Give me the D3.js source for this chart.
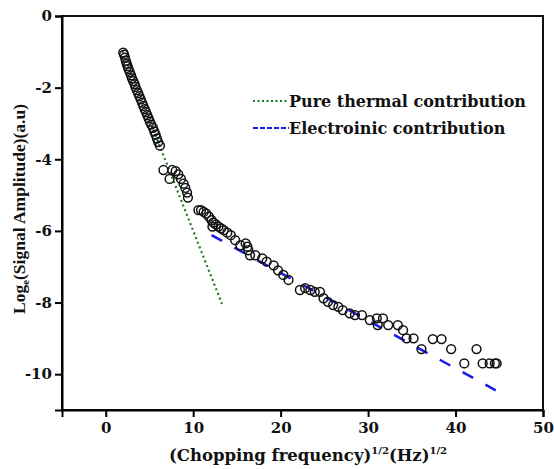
<!DOCTYPE html>
<html>
<head>
<meta charset="utf-8">
<script src="https://cdn.jsdelivr.net/npm/d3@7"></script>
<style>
  body { margin: 0; background: #fff; }
  text { font-family: "DejaVu Serif", "Liberation Serif", serif; font-weight: bold; fill: #111; }
</style>
</head>
<body>
<svg id="chart" width="554" height="469"></svg>
<script>
// measured points, x = sqrt(chopping freq), y = ln(signal amplitude)
const freq = [
  2.0, 2.1, 2.2, 2.3, 2.4, 2.5, 2.6, 2.75, 2.9, 3.0, 3.15, 3.3, 3.4, 3.55, 3.7, 3.85,
  4.0, 4.15, 4.3, 4.45, 4.6, 4.75, 4.9, 5.05, 5.2, 5.4, 5.55, 5.7, 5.85, 6.0, 6.2,
  6.6, 7.3, 7.6, 8.0, 8.3, 8.6, 8.9, 9.1, 9.3, 9.4,
  10.6, 10.9, 11.2, 11.5, 11.8, 12.1, 12.3, 12.2, 12.6, 12.9, 13.2, 13.5, 13.9, 14.3,
  14.8, 15.4, 16.0, 16.2, 16.3, 16.5, 17.1, 17.9, 18.4, 19.2, 19.7, 20.3, 20.9,
  22.2, 22.8, 23.4, 23.9, 24.5, 24.9, 25.4, 26.0, 26.6, 27.1, 27.9, 28.5, 29.3,
  30.2, 31.0, 31.7, 31.1, 32.3, 33.4, 34.0, 34.4, 35.2, 36.1, 37.4, 38.4, 39.5,
  41.0, 42.4, 43.1, 43.9, 44.5, 44.7
];
const amp = [
  -1.02, -1.08, -1.16, -1.25, -1.33, -1.40, -1.48, -1.57, -1.66, -1.74, -1.82, -1.90, -1.98, -2.07, -2.15, -2.24,
  -2.33, -2.42, -2.51, -2.60, -2.68, -2.77, -2.86, -2.95, -3.03, -3.12, -3.22, -3.31, -3.42, -3.52, -3.62,
  -4.30, -4.55, -4.30, -4.33, -4.42, -4.55, -4.68, -4.80, -4.93, -5.07,
  -5.42, -5.42, -5.47, -5.52, -5.60, -5.70, -5.77, -5.88, -5.82, -5.88, -5.93, -5.98, -6.05, -6.12,
  -6.26, -6.40, -6.35, -6.44, -6.54, -6.68, -6.68, -6.77, -6.86, -6.96, -7.10, -7.23, -7.37,
  -7.65, -7.60, -7.65, -7.70, -7.70, -7.88, -7.98, -8.07, -8.12, -8.21, -8.30, -8.35, -8.35,
  -8.49, -8.44, -8.44, -8.63, -8.63, -8.63, -8.77, -9.00, -9.00, -9.30, -9.02, -9.02, -9.30,
  -9.70, -9.30, -9.70, -9.70, -9.70, -9.70
];

// fitted lines (end points)
const thermalX = [1.9, 13.3];
const thermalY = [-0.98, -8.04];
const electronX = [12.1, 44.6];
const electronY = [-6.12, -10.45];

const legendLabels = ["Pure thermal contribution", "Electroinic contribution"];
const xTicks = [0, 10, 20, 30, 40, 50];
const yTicks = [0, -2, -4, -6, -8, -10];

const svg = d3.select("#chart");
const plot = {left: 62, right: 543, top: 16, bottom: 410};

const x = d3.scaleLinear().domain([-5, 50]).range([plot.left, plot.right]);
const y = d3.scaleLinear().domain([-11, 0]).range([plot.bottom, plot.top]);

const line = d3.line().x(d => x(d[0])).y(d => y(d[1]));

// thermal dotted
svg.append("path")
  .datum(d3.zip(thermalX, thermalY))
  .attr("d", line)
  .attr("fill", "none")
  .attr("stroke", "#1f7a1f")
  .attr("stroke-width", 2.2)
  .attr("stroke-dasharray", "2,3");

// electronic dashed
svg.append("path")
  .datum(d3.zip(electronX, electronY))
  .attr("d", line)
  .attr("fill", "none")
  .attr("stroke", "#1a1ae6")
  .attr("stroke-width", 2.5)
  .attr("stroke-dasharray", "12,14");

// points
svg.append("g").selectAll("circle")
  .data(d3.zip(freq, amp))
  .join("circle")
  .attr("cx", d => x(d[0]))
  .attr("cy", d => y(d[1]))
  .attr("r", 4.4)
  .attr("fill", "none")
  .attr("stroke", "#111")
  .attr("stroke-width", 1.5);

// frame
svg.append("rect")
  .attr("x", plot.left).attr("y", plot.top)
  .attr("width", plot.right - plot.left).attr("height", plot.bottom - plot.top)
  .attr("fill", "none").attr("stroke", "#111").attr("stroke-width", 2);

// axes
const xAxis = svg.append("g").attr("transform", "translate(0," + plot.bottom + ")");
xAxis.call(d3.axisBottom(x).tickValues(d3.range(-5, 51, 5)).tickSize(4).tickFormat(""));
xAxis.call(d3.axisBottom(x).tickValues(xTicks).tickSize(7).tickPadding(5).tickFormat(d3.format("d")));
xAxis.selectAll(".domain").attr("stroke-width", 2);
xAxis.selectAll("line").attr("stroke-width", 2);
xAxis.selectAll("text").style("font-size", "15px");

const yAxis = svg.append("g").attr("transform", "translate(" + plot.left + ",0)");
yAxis.call(d3.axisLeft(y).tickValues(d3.range(-11, 1, 1)).tickSize(4).tickFormat(""));
yAxis.call(d3.axisLeft(y).tickValues(yTicks).tickSize(7).tickPadding(3).tickFormat(d => d));
yAxis.selectAll(".domain").attr("stroke-width", 2);
yAxis.selectAll("line").attr("stroke-width", 2);
yAxis.selectAll("text").style("font-size", "15px");

// axis titles
const xt = svg.append("text")
  .attr("x", 308).attr("y", 461)
  .attr("text-anchor", "middle")
  .style("font-size", "16.5px");
xt.append("tspan").text("(Chopping frequency)");
xt.append("tspan").attr("dy", -7).style("font-size", "10px").text("1/2");
xt.append("tspan").attr("dy", 7).text("(Hz)");
xt.append("tspan").attr("dy", -7).style("font-size", "10px").text("1/2");

const yt = svg.append("text")
  .attr("transform", "translate(25,209) rotate(-90)")
  .attr("text-anchor", "middle")
  .style("font-family", "'Liberation Serif', serif")
  .style("font-size", "17.5px");
yt.append("tspan").text("Log");
yt.append("tspan").attr("dy", 4).style("font-size", "11px").text("e");
yt.append("tspan").attr("dy", -4).text("(Signal Amplitude)(a.u)");

// legend
const legendColors = ["#1f7a1f", "#1a1ae6"];
const legendDash = ["2,2.5", "5,2"];
const lg = svg.append("g");
legendLabels.forEach((lab, i) => {
  const ly = 101 + i * 27;
  lg.append("line")
    .attr("x1", 253).attr("x2", 289)
    .attr("y1", ly).attr("y2", ly)
    .attr("stroke", legendColors[i])
    .attr("stroke-width", 2)
    .attr("stroke-dasharray", legendDash[i]);
  lg.append("text")
    .attr("x", 289).attr("y", ly + 6)
    .style("font-size", "16px")
    .text(lab);
});
</script>
</body>
</html>
